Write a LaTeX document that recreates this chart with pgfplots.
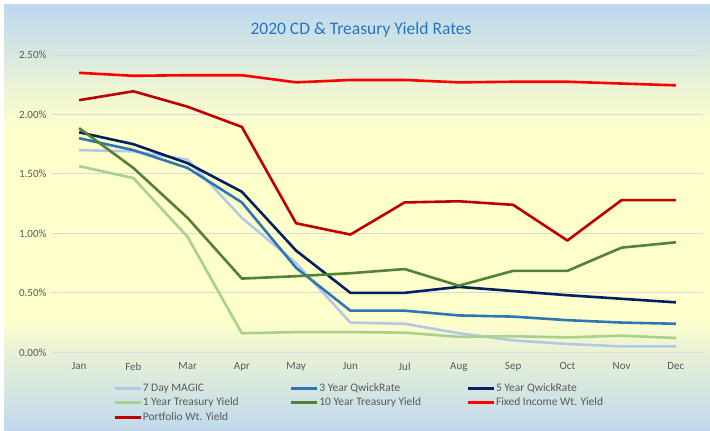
\documentclass[border=0pt]{standalone}
\usepackage{pgfplots}
\pgfplotsset{compat=1.18}
\usepackage{fontspec}
\setmainfont{Carlito}

\definecolor{bgA}{HTML}{C0D8EC}
\definecolor{bgB}{HTML}{D0E3E4}
\definecolor{bgC}{HTML}{E8F1D6}
\definecolor{bgY}{HTML}{FFFFCC}
\definecolor{bgD}{HTML}{EEF5D4}
\definecolor{bgE}{HTML}{D8E8E0}
\definecolor{bgF}{HTML}{BDD7EE}
\definecolor{titleblue}{HTML}{2774C2}
\definecolor{labelgray}{HTML}{595959}
\definecolor{gridgray}{HTML}{D9D9E0}
\definecolor{cMagic}{HTML}{B4C7E7}
\definecolor{cThree}{HTML}{2E75B6}
\definecolor{cFive}{HTML}{002060}
\definecolor{cOneT}{HTML}{A9D18E}
\definecolor{cTenT}{HTML}{548235}
\definecolor{cFixed}{HTML}{FF0000}
\definecolor{cPort}{HTML}{C00000}

% tikz maps the path onto the 25bp..75bp part of the shading
\pgfdeclareverticalshading{chartbg}{100bp}{
  color(0bp)=(bgA); color(25bp)=(bgA); color(28.65bp)=(bgB);
  color(34.25bp)=(bgC); color(38bp)=(bgY); color(60.35bp)=(bgY);
  color(65bp)=(bgD); color(69.15bp)=(bgE); color(75bp)=(bgF);
  color(100bp)=(bgF)}

\begin{document}
\begin{tikzpicture}[x=1pt,y=1pt]
\useasboundingbox (0,0) rectangle (710,431);
\shade[shading=chartbg] (4,0) rectangle (710,426);
\node[font=\fontsize{17.5}{19}\selectfont, text=titleblue] at (361,401) {2020 CD \& Treasury Yield Rates};

\begin{axis}[
  at={(52pt,78.7pt)}, anchor=south west,
  scale only axis,
  width=651pt, height=297.3pt,
  xmin=-0.5, xmax=11.5,
  ymin=0, ymax=2.5,
  axis line style={draw=none},
  major tick length=0pt,
  ymajorgrids,
  grid style={gridgray, line width=0.9pt},
  xtick={0,...,11},
  xticklabels={Jan,Feb,Mar,Apr,May,Jun,Jul,Aug,Sep,Oct,Nov,Dec},
  ytick={0,0.5,1,1.5,2,2.5},
  yticklabels={{0.00\%},{0.50\%},{1.00\%},{1.50\%},{2.00\%},{2.50\%}},
  ticklabel style={font=\fontsize{11}{12}\selectfont, text=labelgray},
  xticklabel style={yshift=-7pt},
  yticklabel style={xshift=-2pt},
  every axis plot/.append style={line width=2.6pt, line join=round},
  legend columns=3,
  legend cell align=left,
  legend style={at={(0.0937,-0.101)}, anchor=north west, draw=none, fill=none,
    font=\fontsize{11.5}{12}\selectfont, text=labelgray,
    inner sep=0pt, row sep=3pt, column sep=0pt,
    nodes={inner sep=1pt}},
  legend image code/.code={\draw[#1, line width=2.6pt] (0pt,0pt) -- (26pt,0pt);},
]
\addplot[cMagic] coordinates {
  (0,1.70) (1,1.69) (2,1.62) (3,1.13) (4,0.75) (5,0.25)
  (6,0.24) (7,0.16) (8,0.10) (9,0.07) (10,0.05) (11,0.05)
};
\addlegendentry{\makebox[146pt][l]{7 Day MAGIC}}
\addplot[cThree] coordinates {
  (0,1.80) (1,1.70) (2,1.55) (3,1.26) (4,0.71) (5,0.35)
  (6,0.35) (7,0.31) (8,0.30) (9,0.27) (10,0.25) (11,0.24)
};
\addlegendentry{\makebox[146pt][l]{3 Year QwickRate}}
\addplot[cFive] coordinates {
  (0,1.85) (1,1.75) (2,1.59) (3,1.35) (4,0.855) (5,0.50)
  (6,0.50) (7,0.55) (8,0.515) (9,0.48) (10,0.45) (11,0.42)
};
\addlegendentry{\makebox[146pt][l]{5 Year QwickRate}}
\addplot[cOneT] coordinates {
  (0,1.565) (1,1.465) (2,0.97) (3,0.16) (4,0.17) (5,0.17)
  (6,0.165) (7,0.13) (8,0.135) (9,0.125) (10,0.14) (11,0.12)
};
\addlegendentry{\makebox[146pt][l]{1 Year Treasury Yield}}
\addplot[cTenT] coordinates {
  (0,1.885) (1,1.55) (2,1.13) (3,0.62) (4,0.64) (5,0.665)
  (6,0.70) (7,0.56) (8,0.685) (9,0.685) (10,0.88) (11,0.925)
};
\addlegendentry{\makebox[146pt][l]{10 Year Treasury Yield}}
\addplot[cFixed] coordinates {
  (0,2.35) (1,2.325) (2,2.33) (3,2.33) (4,2.27) (5,2.29)
  (6,2.29) (7,2.27) (8,2.275) (9,2.275) (10,2.26) (11,2.245)
};
\addlegendentry{\makebox[146pt][l]{Fixed Income Wt. Yield}}
\addplot[cPort] coordinates {
  (0,2.12) (1,2.195) (2,2.065) (3,1.895) (4,1.085) (5,0.99)
  (6,1.26) (7,1.27) (8,1.24) (9,0.94) (10,1.28) (11,1.28)
};
\addlegendentry{\makebox[146pt][l]{Portfolio Wt. Yield}}
\end{axis}
\end{tikzpicture}
\end{document}
